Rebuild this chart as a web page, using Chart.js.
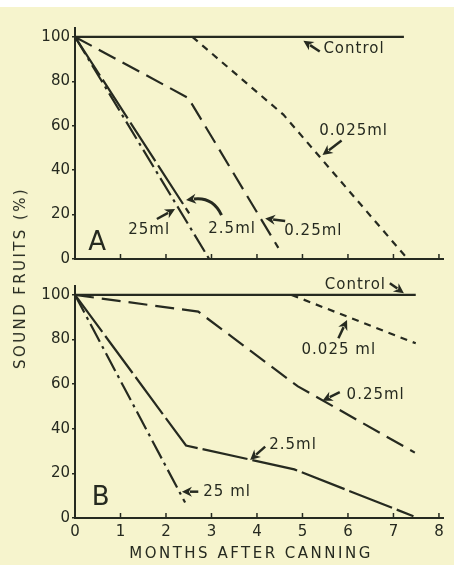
<!DOCTYPE html>
<html>
<head>
<meta charset="utf-8">
<script src="https://cdn.jsdelivr.net/npm/chart.js@4.4.0/dist/chart.umd.min.js"></script>
<style>
  body { margin: 0; width: 454px; height: 565px; background: #f6f4cd; position: relative; overflow: hidden; font-family: "DejaVu Sans", sans-serif; color: #262a20; }
  #strip { position: absolute; left: 0; top: 0; width: 454px; height: 7px; background: #ffffff; }
  canvas { position: absolute; left: 0; }
  #chartA { top: 0; }
  #chartB { top: 272px; }
  .ytitle { position: absolute; left: 20px; top: 278px; transform: translate(-50%, -50%) rotate(-90deg); font-size: 15px; letter-spacing: 2.4px; white-space: nowrap; }
  .xtitle { position: absolute; left: 251px; top: 553px; transform: translate(-50%, -50%); font-size: 15px; letter-spacing: 2.5px; white-space: nowrap; }
</style>
</head>
<body>
<div id="strip"></div>
<canvas id="chartA" width="454" height="272"></canvas>
<canvas id="chartB" width="454" height="293"></canvas>
<div class="ytitle">SOUND FRUITS (%)</div>
<div class="xtitle">MONTHS AFTER CANNING</div>
<script>
"use strict";

// months after canning / sound fruits (%), panel A
const aControlMonths = [0, 7.23];
const aControlSound = [100, 100];
const a0025Months = [2.58, 4.58, 7.27];
const a0025Sound = [100, 65, 1];
const a025Months = [0, 2.49, 4.47];
const a025Sound = [100, 72.5, 5];
const a25Months = [0, 2.51];
const a25Sound = [100, 20.5];
const a250Months = [0, 2.95];
const a250Sound = [100, 0];

// panel B
const bControlMonths = [0, 7.49];
const bControlSound = [100, 100];
const b0025Months = [4.76, 7.49];
const b0025Sound = [100, 78.3];
const b025Months = [0, 2.71, 4.9, 7.47];
const b025Sound = [100, 92.5, 59, 29.3];
const b25Months = [0, 2.44, 4.82, 7.44];
const b25Sound = [100, 32.5, 21.8, 0.8];
const b250Months = [0, 2.42];
const b250Sound = [100, 6.9];

const xTicks = [0, 1, 2, 3, 4, 5, 6, 7, 8];
const yTicks = [0, 20, 40, 60, 80, 100];

const ink = '#262a20';
const font = {family: 'DejaVu Sans', size: 15};

function series(months, sound, dash) {
    return {
        data: months.map((m, i) => ({x: m, y: sound[i]})),
        borderColor: ink,
        borderWidth: 2.2,
        borderDash: dash,
        pointRadius: 0,
        fill: false,
        tension: 0
    };
}

function drawArrow(ctx, tail, tip, bend) {
    const from = bend || tail;
    const ang = Math.atan2(tip[1] - from[1], tip[0] - from[0]);
    const len = 10;
    const half = 5;
    const base = [tip[0] - Math.cos(ang) * len * 0.8, tip[1] - Math.sin(ang) * len * 0.8];
    ctx.lineWidth = bend ? 3 : 2.5;
    ctx.beginPath();
    ctx.moveTo(tail[0], tail[1]);
    if (bend) {
        ctx.quadraticCurveTo(bend[0], bend[1], base[0], base[1]);
    } else {
        ctx.lineTo(base[0], base[1]);
    }
    ctx.stroke();
    ctx.beginPath();
    ctx.moveTo(tip[0], tip[1]);
    ctx.lineTo(tip[0] - Math.cos(ang) * len + Math.sin(ang) * half, tip[1] - Math.sin(ang) * len - Math.cos(ang) * half);
    ctx.lineTo(tip[0] - Math.cos(ang) * len * 0.7, tip[1] - Math.sin(ang) * len * 0.7);
    ctx.lineTo(tip[0] - Math.cos(ang) * len - Math.sin(ang) * half, tip[1] - Math.sin(ang) * len + Math.cos(ang) * half);
    ctx.closePath();
    ctx.fill();
}

function notesPlugin(notes, letter) {
    return {
        id: 'notes',
        afterDraw(chart) {
            const ctx = chart.ctx;
            const x = chart.scales.x;
            const y = chart.scales.y;
            const px = (p) => [x.getPixelForValue(p[0]), y.getPixelForValue(p[1])];
            ctx.save();
            ctx.fillStyle = ink;
            ctx.strokeStyle = ink;

            // tick marks point into the plot
            ctx.lineWidth = 1.5;
            const bottom = chart.chartArea.bottom;
            xTicks.slice(1).forEach((v) => {
                const xp = x.getPixelForValue(v);
                ctx.beginPath();
                ctx.moveTo(xp, bottom);
                ctx.lineTo(xp, bottom - 5);
                ctx.stroke();
            });

            ctx.font = '15px "DejaVu Sans"';
            ctx.letterSpacing = '1px';
            ctx.textBaseline = 'middle';
            ctx.textAlign = 'left';
            notes.forEach((n) => {
                const at = px(n.at);
                ctx.fillText(n.text, at[0], at[1]);
                drawArrow(ctx, px(n.tail), px(n.tip), n.bend ? px(n.bend) : null);
            });

            ctx.letterSpacing = '0px';
            ctx.font = '26px "DejaVu Sans"';
            const lp = px(letter.at);
            ctx.fillText(letter.text, lp[0], lp[1]);
            ctx.restore();
        }
    };
}

function buildChart(id, datasets, notes, letter, padTop, xHeight, showLabels) {
    const ctx = document.getElementById(id);
    return new Chart(ctx, {
        type: 'line',
        data: {datasets: datasets},
        options: {
            responsive: false,
            animation: false,
            layout: {padding: {top: padTop, right: 10.5, bottom: 0, left: 0}},
            plugins: {legend: {display: false}, tooltip: {enabled: false}},
            scales: {
                x: {
                    type: 'linear',
                    min: 0,
                    max: 8.1,
                    afterBuildTicks: (s) => { s.ticks = xTicks.map((v) => ({value: v})); },
                    afterFit: (s) => { s.height = xHeight; },
                    grid: {display: false, drawTicks: false},
                    border: {display: true, color: ink, width: 2},
                    ticks: {display: showLabels, padding: 5, color: ink, font: font}
                },
                y: {
                    type: 'linear',
                    min: 0,
                    max: 104,
                    afterBuildTicks: (s) => { s.ticks = yTicks.map((v) => ({value: v})); },
                    afterFit: (s) => { s.width = 75; },
                    grid: {display: true, drawOnChartArea: false, drawTicks: true, tickLength: 3, color: ink, lineWidth: 1.5},
                    border: {display: true, color: ink, width: 2},
                    ticks: {padding: 2, color: ink, font: font}
                }
            }
        },
        plugins: [notesPlugin(notes, letter)]
    });
}

const shortDash = [7, 6];
const midDash = [19, 8];
const longDash = [46, 5];
const dashDot = [20, 5, 3, 5];

buildChart('chartA', [
    series(aControlMonths, aControlSound, []),
    series(a0025Months, a0025Sound, shortDash),
    series(a025Months, a025Sound, midDash),
    series(a25Months, a25Sound, longDash),
    series(a250Months, a250Sound, dashDot)
], [
    {text: 'Control', at: [5.46, 94.5], tail: [5.38, 93.4], tip: [5.02, 98.3]},
    {text: '0.025ml', at: [5.37, 57.7], tail: [5.86, 53.3], tip: [5.44, 46.8]},
    {text: '0.25ml', at: [4.6, 12.7], tail: [4.62, 17.1], tip: [4.18, 18.2]},
    {text: '2.5ml', at: [2.93, 13.4], tail: [3.22, 19.8], bend: [3.03, 28], tip: [2.44, 26.6]},
    {text: '25ml', at: [1.17, 13], tail: [1.8, 18], tip: [2.2, 22.5]}
], {text: 'A', at: [0.29, 7.2]}, 28, 13, false);

buildChart('chartB', [
    series(bControlMonths, bControlSound, []),
    series(b0025Months, b0025Sound, shortDash),
    series(b025Months, b025Sound, midDash),
    series(b25Months, b25Sound, longDash),
    series(b250Months, b250Sound, dashDot)
], [
    {text: 'Control', at: [5.49, 104.5], tail: [6.92, 105.2], tip: [7.23, 100.8]},
    {text: '0.025 ml', at: [4.98, 75.3], tail: [5.79, 80.6], tip: [5.98, 88.8]},
    {text: '0.25ml', at: [5.97, 55.2], tail: [5.82, 56.4], tip: [5.44, 52.6]},
    {text: '2.5ml', at: [4.27, 32.7], tail: [4.18, 32], tip: [3.85, 26]},
    {text: '25 ml', at: [2.82, 11.8], tail: [2.71, 11.8], tip: [2.35, 11.8]}
], {text: 'B', at: [0.37, 8.8]}, 14, 47, true);
</script>
</body>
</html>
